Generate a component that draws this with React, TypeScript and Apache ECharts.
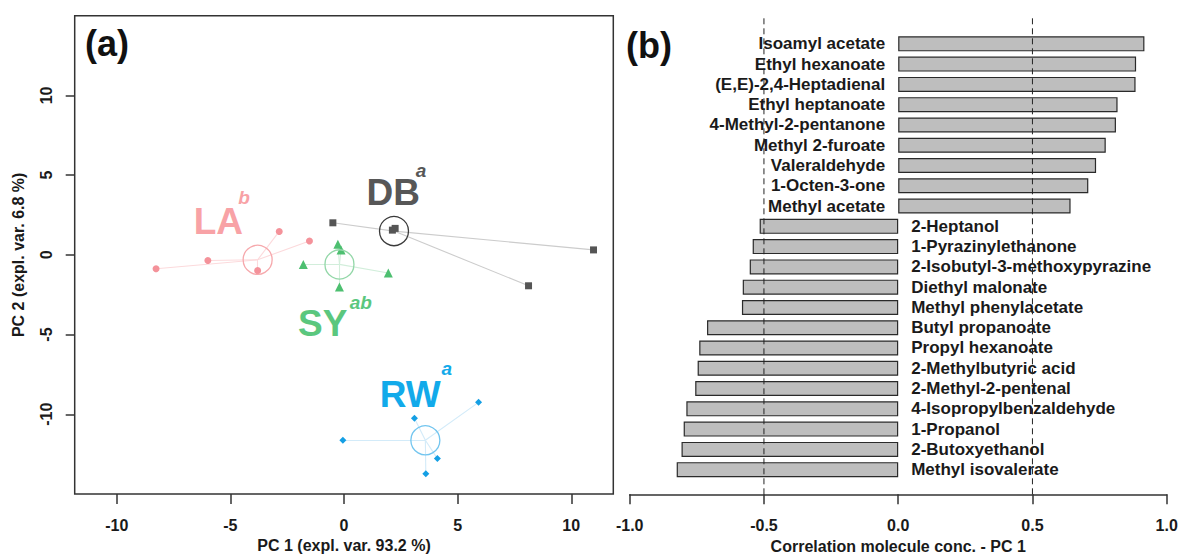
import React, { useEffect, useRef } from "react";
import * as echarts from "echarts";

// ---------- Panel (a) data: PCA scores ----------
const laPoints = [[-8.27, -0.87], [-5.99, -0.35], [-3.8, -0.99], [-2.85, 1.47], [-1.52, 0.87]];
const syPoints = [[-0.27, 0.66], [-0.13, 0.31], [-1.79, -0.6], [1.95, -1.14], [-0.2, -2.01]];
const dbPoints = [[-0.49, 2.01], [2.13, 1.55], [2.25, 1.66], [10.98, 0.31], [8.12, -1.94]];
const rwPoints = [[-0.05, -11.63], [3.1, -10.25], [5.92, -9.25], [4.11, -12.78], [3.6, -13.73]];

const laCentroid = [-3.8, -0.31];
const syCentroid = [-0.2, -0.6];
const dbCentroid = [2.2, 1.49];
const rwCentroid = [3.58, -11.63];

const groupNames = ["LA", "SY", "DB", "RW"];
const groupLetters = ["b", "ab", "a", "a"];
const groupLabelAt = [[-5.53, 2.07], [-0.94, -4.3], [2.17, 3.89], [2.91, -8.74]];
const groupLetterAt = [[-4.4, 3.58], [0.74, -2.97], [3.39, 5.3], [4.52, -7.12]];

const pcTicks = [-10, -5, 0, 5, 10];

// ---------- Panel (b) data: correlation with PC1 ----------
const molecules = [
  "Isoamyl acetate",
  "Ethyl hexanoate",
  "(E,E)-2,4-Heptadienal",
  "Ethyl heptanoate",
  "4-Methyl-2-pentanone",
  "Methyl 2-furoate",
  "Valeraldehyde",
  "1-Octen-3-one",
  "Methyl acetate",
  "2-Heptanol",
  "1-Pyrazinylethanone",
  "2-Isobutyl-3-methoxypyrazine",
  "Diethyl malonate",
  "Methyl phenylacetate",
  "Butyl propanoate",
  "Propyl hexanoate",
  "2-Methylbutyric acid",
  "2-Methyl-2-pentenal",
  "4-Isopropylbenzaldehyde",
  "1-Propanol",
  "2-Butoxyethanol",
  "Methyl isovalerate",
];
const correlations = [
  0.917, 0.886, 0.884, 0.817, 0.811, 0.773, 0.737, 0.708, 0.642,
  -0.516, -0.542, -0.553, -0.579, -0.582, -0.712, -0.741, -0.747,
  -0.756, -0.789, -0.799, -0.807, -0.825,
];
const thresholds = [-0.5, 0.5];

const FONT = "'Liberation Sans', Arial, Helvetica, sans-serif";

export default function App() {
  const ref = useRef<HTMLDivElement>(null);

  useEffect(() => {
    if (!ref.current) return;
    const chart = echarts.init(ref.current, null, { renderer: "svg" });

    const groups = [
      { pts: laPoints, c: laCentroid, color: "#f4929a", text: "#f8a2a6", line: "#fcdadc", ring: "#f6a8ac", symbol: "circle", size: 7 },
      { pts: syPoints, c: syCentroid, color: "#4dbf70", text: "#5bc77e", line: "#d2eedb", ring: "#93d7a8", symbol: "triangle", size: 9 },
      { pts: dbPoints, c: dbCentroid, color: "#555555", text: "#575757", line: "#cccccc", ring: "#3a3a3a", symbol: "rect", size: 7 },
      { pts: rwPoints, c: rwCentroid, color: "#149fe4", text: "#12aaea", line: "#d3ebf9", ring: "#72c5ef", symbol: "diamond", size: 7 },
    ];

    const series: any[] = [];
    groups.forEach((g, i) => {
      series.push({
        type: "lines",
        coordinateSystem: "cartesian2d",
        xAxisIndex: 0,
        yAxisIndex: 0,
        silent: true,
        z: 2,
        lineStyle: { color: g.line, width: 1.1, opacity: 1 },
        data: g.pts.map((p) => ({ coords: [g.c, p], lineStyle: { color: g.line, opacity: 1 } })),
      });
      series.push({
        type: "scatter",
        xAxisIndex: 0,
        yAxisIndex: 0,
        symbol: g.symbol,
        symbolSize: g.size,
        itemStyle: { color: g.color, opacity: 1 },
        z: 3,
        data: g.pts,
      });
      series.push({
        type: "scatter",
        xAxisIndex: 0,
        yAxisIndex: 0,
        symbol: "circle",
        symbolSize: 29,
        itemStyle: { color: "rgba(0,0,0,0)", borderColor: g.ring, borderWidth: 1.3, opacity: 1 },
        z: 4,
        data: [g.c],
      });
      series.push({
        type: "scatter",
        xAxisIndex: 0,
        yAxisIndex: 0,
        symbolSize: 0,
        silent: true,
        z: 5,
        itemStyle: { opacity: 1 },
        label: {
          show: true,
          position: "inside",
          formatter: groupNames[i],
          fontFamily: FONT,
          fontWeight: "bold",
          fontSize: 37,
          color: g.text,
        },
        data: [groupLabelAt[i]],
      });
      series.push({
        type: "scatter",
        xAxisIndex: 0,
        yAxisIndex: 0,
        symbolSize: 0,
        silent: true,
        z: 5,
        itemStyle: { opacity: 1 },
        label: {
          show: true,
          position: "inside",
          formatter: groupLetters[i],
          fontFamily: FONT,
          fontWeight: "bold",
          fontStyle: "italic",
          fontSize: 19,
          color: g.text,
        },
        data: [groupLetterAt[i]],
      });
    });

    // Panel (b): dashed threshold lines (full height)
    thresholds.forEach((t) => {
      series.push({
        type: "line",
        xAxisIndex: 1,
        yAxisIndex: 1,
        symbol: "none",
        silent: true,
        z: 6,
        lineStyle: { color: "#222", width: 1, type: [6, 4] },
        data: [[t, 0], [t, 1]],
      });
    });

    // Panel (b): bars
    series.push({
      type: "bar",
      xAxisIndex: 2,
      yAxisIndex: 2,
      barWidth: 15,
      z: 3,
      itemStyle: { color: "#bebebe", borderColor: "#2a2a2a", borderWidth: 1.2 },
      label: {
        show: true,
        formatter: (p: any) => molecules[p.dataIndex],
        fontFamily: FONT,
        fontWeight: "bold",
        fontSize: 17,
        color: "#1a1a1a",
        distance: 13,
      },
      data: correlations.map((v) => ({
        value: v,
        label: { position: v >= 0 ? "left" : "right" },
      })),
    });

    const axisLabelStyle = {
      fontFamily: FONT,
      fontWeight: "bold" as const,
      fontSize: 16,
      color: "#1a1a1a",
    };

    chart.setOption({
      animation: false,
      backgroundColor: "#ffffff",
      textStyle: { fontFamily: FONT },
      grid: [
        { left: 74.7, top: 15.7, width: 538.6, height: 478.3, show: true, borderColor: "#333", borderWidth: 1.5, backgroundColor: "transparent", containLabel: false, outerBoundsMode: "none" },
        { left: 629.7, right: 14.3, top: 15.7, bottom: 61.7, containLabel: false, outerBoundsMode: "none" },
        { left: 629.7, right: 14.3, top: 33.7, bottom: 76.2, containLabel: false, outerBoundsMode: "none" },
      ],
      xAxis: [
        {
          gridIndex: 0,
          type: "value",
          position: "bottom",
          min: -11.85,
          max: 11.85,
          axisLine: { show: false, onZero: false },
          splitLine: { show: false },
          axisTick: { show: true, length: 10, customValues: pcTicks, lineStyle: { color: "#333", width: 1.5 } },
          axisLabel: { ...axisLabelStyle, margin: 23, customValues: pcTicks },
          name: "PC 1 (expl. var. 93.2 %)",
          nameLocation: "middle",
          nameGap: 42,
          nameTextStyle: axisLabelStyle,
        },
        {
          gridIndex: 1,
          type: "value",
          min: -1,
          max: 1,
          interval: 0.5,
          axisLine: { show: true, onZero: false, lineStyle: { color: "#333", width: 1.5 } },
          splitLine: { show: false },
          axisTick: { show: true, length: 10, lineStyle: { color: "#333", width: 1.5 } },
          axisLabel: { ...axisLabelStyle, margin: 23, formatter: (v: number) => v.toFixed(1), showMinLabel: true, showMaxLabel: true },
          name: "Correlation molecule conc. - PC 1",
          nameLocation: "middle",
          nameGap: 41,
          nameTextStyle: axisLabelStyle,
        },
        {
          gridIndex: 2,
          type: "value",
          min: -1,
          max: 1,
          show: false,
        },
      ],
      yAxis: [
        {
          gridIndex: 0,
          type: "value",
          position: "left",
          min: -15,
          max: 15,
          axisLine: { show: false, onZero: false },
          splitLine: { show: false },
          axisTick: { show: true, length: 9, customValues: pcTicks, lineStyle: { color: "#333", width: 1.5 } },
          axisLabel: { ...axisLabelStyle, rotate: 90, margin: 20, customValues: pcTicks },
          name: "PC 2 (expl. var. 6.8 %)",
          nameLocation: "middle",
          nameRotate: 90,
          nameGap: 48,
          nameTextStyle: axisLabelStyle,
        },
        {
          gridIndex: 1,
          type: "value",
          min: 0,
          max: 1,
          show: false,
        },
        {
          gridIndex: 2,
          type: "category",
          inverse: true,
          data: molecules,
          show: false,
        },
      ],
      graphic: [
        { type: "text", left: 85, top: 25, style: { text: "(a)", fontFamily: FONT, fontWeight: "bold", fontSize: 36, fill: "#111" } },
        { type: "text", left: 626, top: 27, style: { text: "(b)", fontFamily: FONT, fontWeight: "bold", fontSize: 36, fill: "#111" } },
      ],
      series,
    });

    return () => chart.dispose();
  }, []);

  return (
    <div
      ref={ref}
      style={{ position: "fixed", left: 0, top: 0, width: 1181, height: 556, background: "#fff" }}
    />
  );
}
